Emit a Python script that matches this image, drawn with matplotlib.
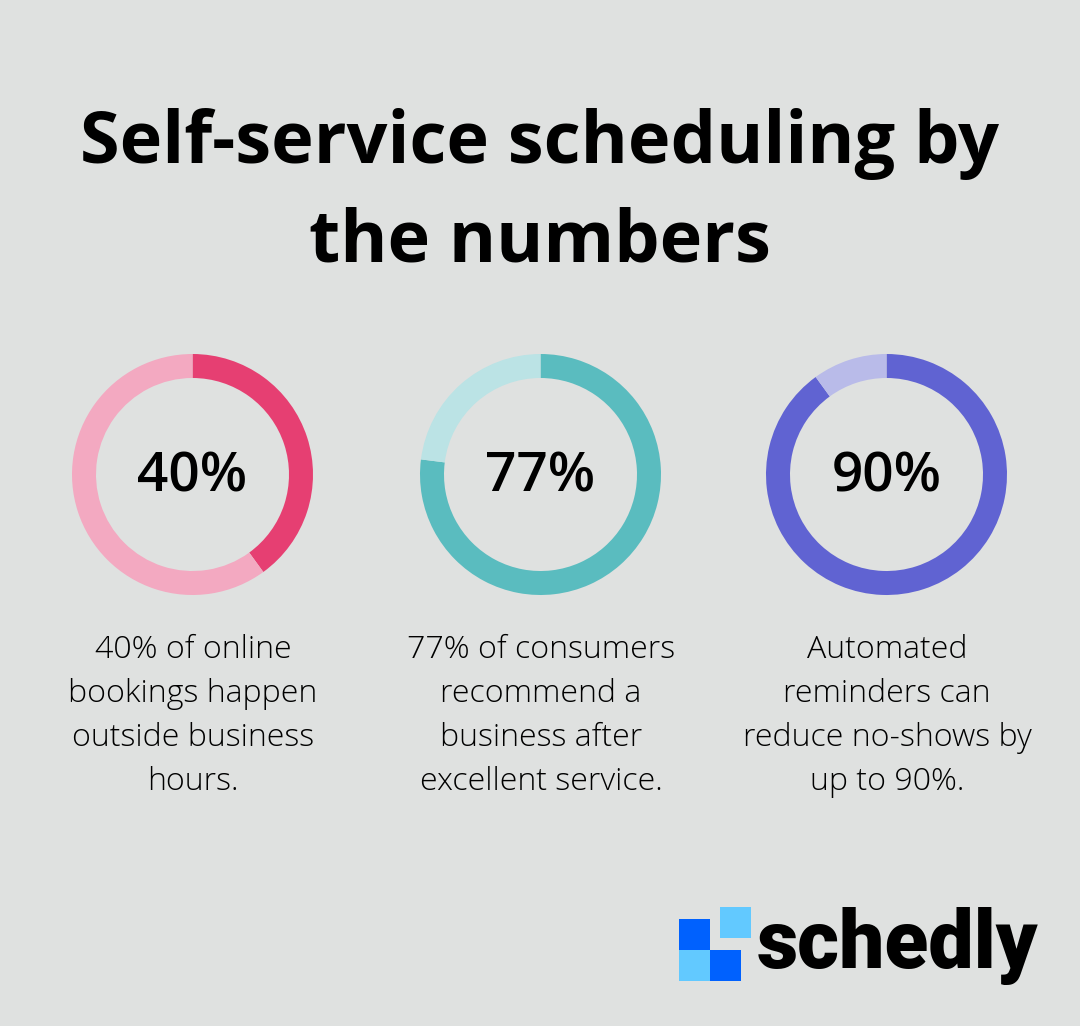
import matplotlib
matplotlib.use('Agg')
import matplotlib.pyplot as plt
from matplotlib.patches import Rectangle

title_lines = ['Self-service scheduling by', 'the numbers']
values = [40, 77, 90]
value_labels = ['40%', '77%', '90%']
captions = [
    ['40% of online', 'bookings happen', 'outside business', 'hours.'],
    ['77% of consumers', 'recommend a', 'business after', 'excellent service.'],
    ['Automated', 'reminders can', 'reduce no-shows by', 'up to 90%.'],
]
dark_colors = ['#e63f72', '#5abcbf', '#6063d2']
light_colors = ['#f3a9c1', '#bbe3e5', '#b9bbe9']
centers = [192.5, 540.5, 886.5]

W, H = 1080, 1026
BG = '#dfe1e0'
plt.rcParams['font.family'] = ['Open Sans', 'DejaVu Sans']

fig = plt.figure(figsize=(W / 100, H / 100), dpi=100, facecolor=BG)
bg = fig.add_axes([0, 0, 1, 1])
bg.set_xlim(0, W)
bg.set_ylim(H, 0)
bg.axis('off')

for line, y in zip(title_lines, [144.5, 243]):
    bg.text(540, y, line, ha='center', va='center', fontsize=51.8, fontweight='bold', color='#000000')

# one axes per donut so the pie scale does the angles
R = 120.5
for cx, val, lab, cap, dark, light in zip(centers, values, value_labels, captions, dark_colors, light_colors):
    ax = fig.add_axes([(cx - R) / W, 1 - (474.5 + R) / H, 2 * R / W, 2 * R / H])
    ax.pie([val, 100 - val], colors=[dark, light], startangle=90, counterclock=False,
           radius=1.0, wedgeprops={'width': 24 / R, 'linewidth': 0})
    ax.set_xlim(-1, 1)
    ax.set_ylim(-1, 1)
    ax.axis('off')
    bg.text(cx, 478, lab, ha='center', va='center', fontsize=39.5, fontweight='semibold', color='#000000')
    for i, line in enumerate(cap):
        bg.text(cx + 0.5, 650 + i * 44, line, ha='center', va='center', fontsize=23.1, fontweight='light', color='#000000')

# logo
for x, y, c in [(679, 919, '#0061fe'), (720, 907, '#62c9ff'), (679, 950, '#62c9ff'), (710, 950, '#0061fe')]:
    bg.add_patch(Rectangle((x, y), 31, 31, facecolor=c, edgecolor='none'))
bg.text(757, 946, 'schedly', ha='left', va='center', fontsize=58, fontweight='black', color='#000000', family=['Roboto', 'DejaVu Sans'])

fig.savefig('out.png', dpi=100, facecolor=BG)
